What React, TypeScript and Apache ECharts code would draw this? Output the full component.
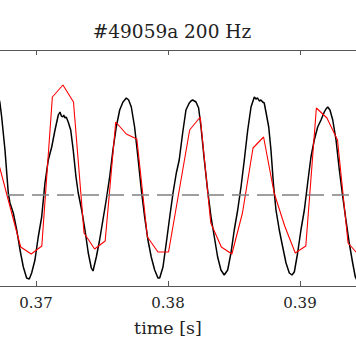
import React, { useEffect, useRef } from "react";
import * as echarts from "echarts";

const TITLE = "#49059a 200 Hz";
const X_LABEL = "time [s]";

// black trace: time in ms, value (arbitrary units, 0 = dashed reference)
const BLACK_T_MS = [
  367.04, 367.27, 367.4, 367.65, 367.9, 368.03, 368.28, 368.54, 368.79, 369.04, 369.29, 369.49,
  369.67, 369.92, 370.17, 370.43, 370.68, 370.93, 371.19, 371.44, 371.69, 371.82, 371.92, 372.02,
  372.1, 372.19, 372.26, 372.32, 372.44, 372.63, 372.82, 373.03, 373.2, 373.46, 373.71, 373.96,
  374.19, 374.32, 374.57, 374.82, 375.07, 375.32, 375.58, 375.83, 376.08, 376.34, 376.59, 376.72,
  376.84, 376.93, 377.02, 377.22, 377.47, 377.72, 377.98, 378.23, 378.48, 378.73, 378.99, 379.24,
  379.37, 379.62, 379.87, 380.13, 380.38, 380.63, 380.85, 381.11, 381.36, 381.61, 381.74, 381.87,
  382.0, 382.12, 382.32, 382.5, 382.75, 383.0, 383.26, 383.51, 383.76, 384.01, 384.26, 384.52,
  384.77, 385.02, 385.28, 385.53, 385.78, 386.04, 386.29, 386.54, 386.66, 386.79, 386.92, 387.04,
  387.17, 387.29, 387.42, 387.63, 387.8, 387.98, 388.18, 388.43, 388.69, 388.94, 389.19, 389.39,
  389.57, 389.82, 390.07, 390.33, 390.58, 390.83, 391.08, 391.34, 391.59, 391.84, 391.97, 392.1,
  392.27, 392.48, 392.73, 392.98, 393.24, 393.48, 393.73, 393.99, 394.19, 394.39,
];
const BLACK_V = [
  105, 92, 78, 45, 2, -8, -18, -35, -55, -72, -83, -84,
  -78, -65, -42, -22, 12, 35, 48, 65, 80, 83, 79, 78,
  80, 77, 78, 77, 73, 65, 45, 18, 2, -15, -35, -58,
  -73, -76, -62, -45, -25, -5, 18, 45, 68, 85, 93, 95,
  97, 96, 95, 88, 68, 38, 5, -22, -45, -62, -75, -83,
  -83, -72, -48, -22, 2, 22, 35, 62, 85, 92, 94, 95,
  94, 93, 87, 68, 35, 5, -22, -42, -62, -75, -80, -75,
  -58, -35, -15, 8, 35, 65, 88, 98, 96, 97, 94, 95,
  93, 92, 83, 68, 45, 12, -15, -35, -52, -68, -78, -80,
  -77, -58, -35, -15, 12, 38, 55, 68, 75, 83, 86, 88,
  85, 75, 55, 25, -2, -25, -48, -68, -82, -87,
];

// red trace: sampled every 0.8 ms
const RED_T_MS = [
  367.24, 368.04, 368.84, 369.64, 370.44, 371.24, 372.04, 372.84, 373.64, 374.44, 375.24,
  376.04, 376.84, 377.64, 378.44, 379.24, 380.04, 380.84, 381.64, 382.44, 383.24, 384.04,
  384.84, 385.64, 386.44, 387.24, 388.04, 388.84, 389.64, 390.44, 391.24, 392.04, 392.84,
  393.64, 394.44,
];
const RED_V = [
  28, -12, -52, -59, -51, 98, 110, 93, -38, -54, -46,
  73, 61, 56, -42, -57, -57, 4, 65, 78, -28, -52,
  -59, -18, 47, 58, 2, -31, -58, -51, 87, 77, 55,
  -48, -60,
];

const X_MIN = 0.367273;
const X_MAX = 0.394242;
const X_TICKS = [0.37, 0.38, 0.39];
const Y_MIN = -91;
const Y_MAX = 145;
const REF_LEVEL = 0;

const FONT = "DejaVu Serif";

export default function App() {
  const ref = useRef<HTMLDivElement>(null);
  useEffect(() => {
    const chart = echarts.init(ref.current!, null, { renderer: "svg" });
    const black = BLACK_T_MS.map((t, i) => [t / 1000, BLACK_V[i]]);
    const red = RED_T_MS.map((t, i) => [t / 1000, RED_V[i]]);
    const axisCommon = {
      type: "value" as const,
      min: X_MIN,
      max: X_MAX,
      splitLine: { show: false },
      axisLine: { show: true, onZero: false, lineStyle: { color: "#555", width: 1.2 } },
      axisTick: {
        show: true,
        inside: true,
        length: 5,
        customValues: X_TICKS,
        lineStyle: { color: "#555", width: 1 },
      },
    };
    chart.setOption({
      animation: false,
      backgroundColor: "#fff",
      grid: { left: 0, top: 50, width: 356, height: 236, containLabel: false },
      xAxis: [
        {
          ...axisCommon,
          position: "bottom",
          axisLabel: {
            show: true,
            margin: 9,
            color: "#222",
            fontFamily: FONT,
            fontSize: 15,
            customValues: X_TICKS,
            formatter: (v: number) => v.toFixed(2),
          },
        },
        {
          ...axisCommon,
          position: "top",
          axisLabel: { show: false },
        },
      ],
      yAxis: {
        type: "value",
        min: Y_MIN,
        max: Y_MAX,
        show: false,
        splitLine: { show: false },
      },
      graphic: [
        {
          type: "text",
          x: 172,
          y: 22,
          style: {
            text: TITLE,
            fontFamily: FONT,
            fontSize: 18.5,
            fill: "#222",
            textAlign: "center",
            textVerticalAlign: "top",
          },
        },
        {
          type: "text",
          x: 168,
          y: 319,
          style: {
            text: X_LABEL,
            fontFamily: FONT,
            fontSize: 17.5,
            fill: "#222",
            textAlign: "center",
            textVerticalAlign: "top",
          },
        },
      ],
      series: [
        {
          type: "line",
          data: red,
          showSymbol: false,
          symbol: "none",
          lineStyle: { color: "#ff0000", width: 1.1 },
          z: 3,
          markLine: {
            silent: true,
            symbol: "none",
            label: { show: false },
            lineStyle: { color: "#808080", width: 1.5, type: [17, 8], dashOffset: 18.3 },
            data: [{ yAxis: REF_LEVEL }],
          },
        },
        {
          type: "line",
          data: black,
          showSymbol: false,
          symbol: "none",
          lineStyle: { color: "#000", width: 1.5 },
          z: 2,
        },
      ],
    });
    return () => chart.dispose();
  }, []);
  return (
    <div
      ref={ref}
      style={{ position: "absolute", left: 0, top: 0, width: 356, height: 364 }}
    />
  );
}
